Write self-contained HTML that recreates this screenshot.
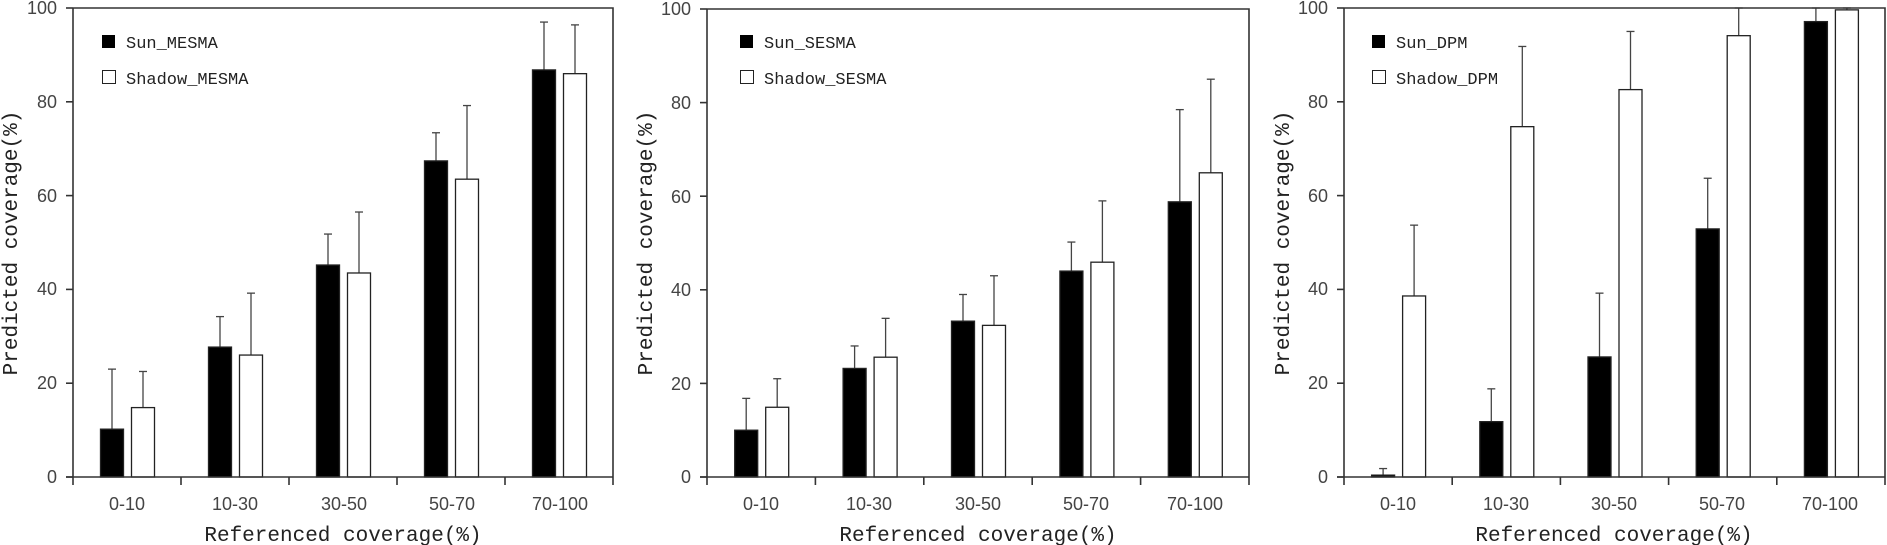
<!DOCTYPE html>
<html><head><meta charset="utf-8"><style>
html,body{margin:0;padding:0;background:#fff;}
svg{display:block}
.tk{font-family:"Liberation Sans",sans-serif;font-size:18px;fill:#444}
.ti{font-family:"Liberation Mono",monospace;font-size:21px;fill:#222}
.lg{font-family:"Liberation Mono",monospace;font-size:17px;fill:#222}
</style></head><body>
<svg id="s" width="1887" height="545" viewBox="0 0 1887 545" xmlns="http://www.w3.org/2000/svg">
<g>
<text class="tk" x="57" y="14" text-anchor="end">100</text>
<text class="tk" x="57" y="108" text-anchor="end">80</text>
<text class="tk" x="57" y="202" text-anchor="end">60</text>
<text class="tk" x="57" y="295" text-anchor="end">40</text>
<text class="tk" x="57" y="389" text-anchor="end">20</text>
<text class="tk" x="57" y="483" text-anchor="end">0</text>
<text class="tk" x="127" y="510" text-anchor="middle">0-10</text>
<text class="tk" x="235" y="510" text-anchor="middle">10-30</text>
<text class="tk" x="344" y="510" text-anchor="middle">30-50</text>
<text class="tk" x="452" y="510" text-anchor="middle">50-70</text>
<text class="tk" x="560" y="510" text-anchor="middle">70-100</text>
<text class="ti" x="343" y="541" text-anchor="middle">Referenced coverage(%)</text>
<text class="ti" transform="translate(17,243) rotate(-90)" text-anchor="middle">Predicted coverage(%)</text>
<rect x="102" y="35" width="13" height="13" fill="#000"/>
<text class="lg" x="126" y="48">Sun_MESMA</text>
<rect x="102.5" y="70.5" width="13" height="13" fill="#fff" stroke="#222"/>
<text class="lg" x="126" y="84">Shadow_MESMA</text>
</g>
<g>
<text class="tk" x="691" y="15" text-anchor="end">100</text>
<text class="tk" x="691" y="109" text-anchor="end">80</text>
<text class="tk" x="691" y="203" text-anchor="end">60</text>
<text class="tk" x="691" y="296" text-anchor="end">40</text>
<text class="tk" x="691" y="390" text-anchor="end">20</text>
<text class="tk" x="691" y="483" text-anchor="end">0</text>
<text class="tk" x="761" y="510" text-anchor="middle">0-10</text>
<text class="tk" x="869" y="510" text-anchor="middle">10-30</text>
<text class="tk" x="978" y="510" text-anchor="middle">30-50</text>
<text class="tk" x="1086" y="510" text-anchor="middle">50-70</text>
<text class="tk" x="1195" y="510" text-anchor="middle">70-100</text>
<text class="ti" x="978" y="541" text-anchor="middle">Referenced coverage(%)</text>
<text class="ti" transform="translate(652,243) rotate(-90)" text-anchor="middle">Predicted coverage(%)</text>
<rect x="740" y="35" width="13" height="13" fill="#000"/>
<text class="lg" x="764" y="48">Sun_SESMA</text>
<rect x="740.5" y="70.5" width="13" height="13" fill="#fff" stroke="#222"/>
<text class="lg" x="764" y="84">Shadow_SESMA</text>
</g>
<g>
<text class="tk" x="1328" y="14" text-anchor="end">100</text>
<text class="tk" x="1328" y="108" text-anchor="end">80</text>
<text class="tk" x="1328" y="202" text-anchor="end">60</text>
<text class="tk" x="1328" y="295" text-anchor="end">40</text>
<text class="tk" x="1328" y="389" text-anchor="end">20</text>
<text class="tk" x="1328" y="483" text-anchor="end">0</text>
<text class="tk" x="1398" y="510" text-anchor="middle">0-10</text>
<text class="tk" x="1506" y="510" text-anchor="middle">10-30</text>
<text class="tk" x="1614" y="510" text-anchor="middle">30-50</text>
<text class="tk" x="1722" y="510" text-anchor="middle">50-70</text>
<text class="tk" x="1830" y="510" text-anchor="middle">70-100</text>
<text class="ti" x="1614" y="541" text-anchor="middle">Referenced coverage(%)</text>
<text class="ti" transform="translate(1289,243) rotate(-90)" text-anchor="middle">Predicted coverage(%)</text>
<rect x="1372" y="35" width="13" height="13" fill="#000"/>
<text class="lg" x="1396" y="48">Sun_DPM</text>
<rect x="1372.5" y="70.5" width="13" height="13" fill="#fff" stroke="#222"/>
<text class="lg" x="1396" y="84">Shadow_DPM</text>
</g>
<g id="plots"></g>
</svg>
<script>
var panels=[
 {x0:73,x1:613,top:8,d:[[10.2,23,14.8,22.5],[27.7,34.2,26,39.2],[45.2,51.8,43.5,56.5],[67.4,73.4,63.5,79.2],[86.8,97,86,96.4]]},
 {x0:707,x1:1249,top:9,d:[[10,16.8,14.9,21],[23.2,28,25.6,33.9],[33.3,39,32.4,43],[44,50.2,45.9,59],[58.8,78.5,65,85]]},
 {x0:1344,x1:1885,top:8,d:[[0.4,1.8,38.6,53.7],[11.8,18.8,74.7,91.8],[25.6,39.2,82.6,95],[52.9,63.7,94.1,100],[97.1,100,99.6,100]]}
];
var g=document.getElementById('plots'),h='',y0=477;
panels.forEach(function(p){
 var sc=(y0-p.top)/100,w=(p.x1-p.x0)/5;
 function Y(v){return y0-v*sc;}
 for(var i=0;i<5;i++){
  var c=p.x0+w*(i+0.5),r=p.d[i];
  [[c-27,r[0],r[1],'#000'],[c+4,r[2],r[3],'#fff']].forEach(function(b){
   var bx=b[0]+0.5,bw=23;
   h+='<line x1="'+(bx+bw/2)+'" y1="'+Y(b[1])+'" x2="'+(bx+bw/2)+'" y2="'+Y(b[2])+'" stroke="#444" stroke-width="1.3"/>';
   h+='<line x1="'+(bx+bw/2-4)+'" y1="'+Y(b[2])+'" x2="'+(bx+bw/2+4)+'" y2="'+Y(b[2])+'" stroke="#444" stroke-width="1.3"/>';
   h+='<rect x="'+bx+'" y="'+Y(b[1])+'" width="'+bw+'" height="'+(b[1]*sc)+'" fill="'+b[3]+'" stroke="#222" stroke-width="1.3"/>';
  });
 }
 h+='<path d="M'+p.x0+' '+p.top+'H'+p.x1+'V'+(y0+8)+'" fill="none" stroke="#333" stroke-width="1.6"/>';
 h+='<line x1="'+p.x0+'" y1="'+p.top+'" x2="'+p.x0+'" y2="'+(y0+8)+'" stroke="#333" stroke-width="1.6"/>';
 h+='<line x1="'+(p.x0-7)+'" y1="'+y0+'" x2="'+p.x1+'" y2="'+y0+'" stroke="#333" stroke-width="1.6"/>';
 for(var k=0;k<=5;k++){var yy=y0-k*20*sc;h+='<line x1="'+(p.x0-7)+'" y1="'+yy+'" x2="'+p.x0+'" y2="'+yy+'" stroke="#333" stroke-width="1.6"/>';}
 for(var k=1;k<5;k++){var xx=p.x0+k*w;h+='<line x1="'+xx+'" y1="'+y0+'" x2="'+xx+'" y2="'+(y0+8)+'" stroke="#333" stroke-width="1.6"/>';}
});
g.innerHTML=h;
</script>
</body></html>
